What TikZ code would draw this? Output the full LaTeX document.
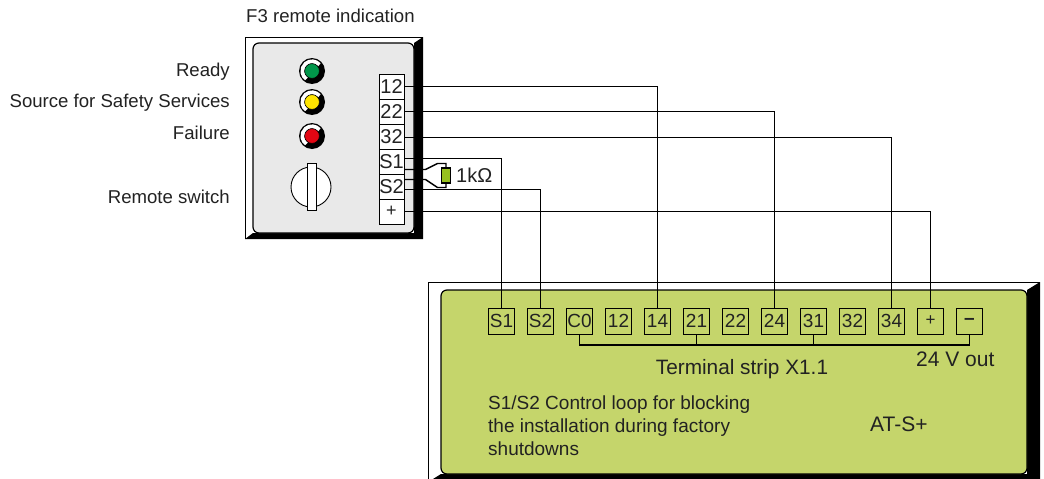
\documentclass[tikz,border=0pt]{standalone}
\usepackage{fontspec}
\setmainfont{Liberation Sans}
\usepackage{tikz}
\usetikzlibrary{calc}
\definecolor{atsgreen}{HTML}{C5D56B}
\definecolor{panelgrey}{HTML}{E9E9E9}
\definecolor{resgreen}{HTML}{97C11F}
\definecolor{ledgreen}{HTML}{00964A}
\definecolor{ledyellow}{HTML}{FFE500}
\definecolor{ledred}{HTML}{E30613}
\definecolor{inktext}{HTML}{222222}
\tikzset{
  wire/.style={line width=1.4pt,black},
  lbl/.style={inner sep=0pt,text=inktext,font=\fontsize{18.6}{20}\selectfont},
  panelterm/.style={draw,fill=white,line width=1pt,minimum width=25pt,minimum height=25pt,inner sep=0pt,text=inktext,font=\fontsize{20}{20}\selectfont},
  stripterm/.style={draw,line width=1pt,minimum width=26pt,minimum height=26pt,inner sep=0pt,text=inktext,font=\fontsize{19}{20}\selectfont}
}
\newcommand{\signallamp}[2]{
  \fill[black] (312,#1) circle (13);
  \draw[white,line width=4pt] ($(312,#1)+(-40:9.6)$) arc (-40:-235:9.6);
  \draw[fill=#2,line width=0.6pt] (312,#1) circle (7.4);
}
\begin{document}
\begin{tikzpicture}[x=1pt,y=-1pt]
    \useasboundingbox (0,0) rectangle (1044,479);
    % remote indication panel
    \draw[line width=0.9pt,fill=white] (245,239) -- (245,37) -- (423,37);
    \fill[black] (423,37) -- (423,239) -- (245,239) -- (253,233) -- (414,233) -- (414,43) -- cycle;
    \draw[line width=1.2pt,fill=panelgrey,rounded corners=6] (253,43) rectangle (414,233);
    \signallamp{71}{ledgreen}
    \signallamp{102}{ledyellow}
    \signallamp{136}{ledred}
    \draw[line width=0.9pt,fill=white] (311,187) circle (20);
    \draw[line width=0.9pt,fill=white] (307,163) rectangle (316,210);
    \node[panelterm] (p12) at (391.5,86.5) {12};
    \node[panelterm] (p22) at (391.5,111.5) {22};
    \node[panelterm] (p32) at (391.5,136.5) {32};
    \node[panelterm] (pS1) at (391.5,161.5) {S1};
    \node[panelterm] (pS2) at (391.5,186.5) {S2};
    \node[panelterm,font=\fontsize{18}{20}\selectfont] (pplus) at (391.5,211.5) {+};
    \node[lbl,anchor=base west] (title) at (246,22) {F3 remote indication};
    \node[lbl,anchor=base east] (ready) at (230,76) {Ready};
    \node[lbl,anchor=base east] (source) at (230,107) {Source for Safety Services};
    \node[lbl,anchor=base east] (failure) at (230,139) {Failure};
    \node[lbl,anchor=base east] (remote) at (230,203) {Remote switch};
    % AT-S+ device
    \draw[line width=0.9pt] (428,479) -- (428,282) -- (1040,282);
    \fill[black] (1040,282) -- (1040,479) -- (433,479) -- (441,474) -- (1027,474) -- (1027,290) -- cycle;
    \draw[line width=1.2pt,fill=atsgreen,rounded corners=6] (441,290) rectangle (1027,474);
    \foreach \name/\txt [count=\i from 0] in {S1/S1,S2/S2,C0/C0,12/12,14/14,21/21,22/22,24/24,31/31,32/32,34/34,plus/{\fontsize{17}{20}\selectfont +},minus/{\bfseries --}}
      \node[stripterm] (x\name) at (501.5+39*\i,321) {\txt};
    % bus under the strip
    \coordinate (busleft) at ($(xC0.south)+(0,10.5)$);
    \coordinate (busright) at ($(xminus.south)+(0,10.5)$);
    \draw[wire] (xC0.south) -- (busleft) -- (busright) -- (xminus.south);
    \draw[wire] (x21.south) -- (x21.south |- busleft);
    \draw[wire] (x31.south) -- (x31.south |- busleft);
    % resistor
    \node[draw,fill=resgreen,line width=1.4pt,minimum width=9pt,minimum height=15pt,inner sep=0pt] (res) at (446,175.5) {};
    \node[lbl,anchor=base west,font=\fontsize{20}{20}\selectfont] (resval) at (456,182) {1kΩ};
    % wires
    \coordinate (p32out) at (404,137.5);
    \coordinate (s1out) at (404,158.5);
    \coordinate (s2out) at (404,189.5);
    \coordinate (s1res) at (404,169.5);
    \coordinate (s2res) at (404,179.5);
    \draw[wire] (p12.east) -- (p12.east -| x14.north) -- (x14.north);
    \draw[wire] (p22.east) -- (p22.east -| x24.north) -- (x24.north);
    \draw[wire] (p32out) -- (p32out -| x34.north) -- (x34.north);
    \draw[wire] (pplus.east) -- (pplus.east -| xplus.north) -- (xplus.north);
    \draw[wire] (s1out) -- (s1out -| xS1.north) -- (xS1.north);
    \draw[wire] (s2out) -- (s2out -| xS2.north) -- (xS2.north);
    \draw[wire] (s1res) -- (425.5,169.5) -- (437.5,163.5) -- (446,163.5) -- (res.north);
    \draw[wire] (s2res) -- (425.5,179.5) -- (437.5,187.5) -- (446,187.5) -- (res.south);
    % texts on the device
    \node[lbl,anchor=base,font=\fontsize{20.8}{20}\selectfont] (strip) at (742,374) {Terminal strip X1.1};
    \node[lbl,anchor=base west,font=\fontsize{21}{20}\selectfont] (out) at (916,366) {24 V out};
    \node[lbl,anchor=base west,font=\fontsize{19}{20}\selectfont] (note1) at (488,409) {S1/S2 Control loop for blocking};
    \node[lbl,anchor=base west,font=\fontsize{19}{20}\selectfont] (note2) at (488,432) {the installation during factory};
    \node[lbl,anchor=base west,font=\fontsize{19}{20}\selectfont] (note3) at (488,455) {shutdowns};
    \node[lbl,anchor=base west,font=\fontsize{21}{20}\selectfont] (model) at (870,431) {AT-S+};
\end{tikzpicture}
\end{document}
